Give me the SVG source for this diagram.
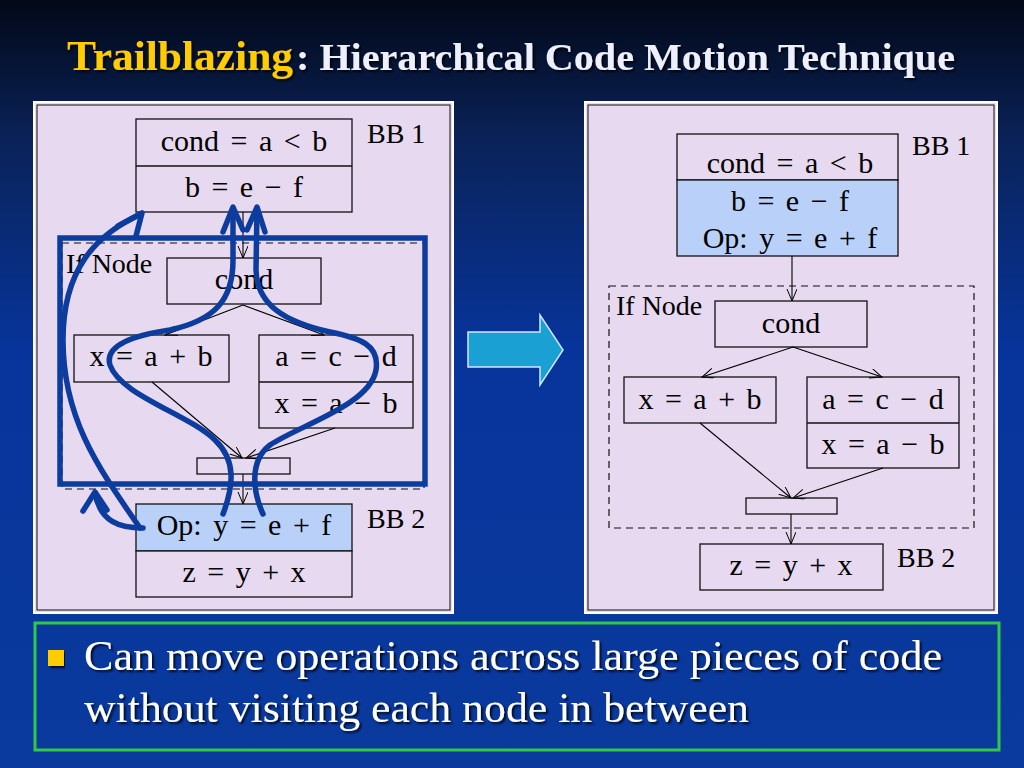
<svg xmlns="http://www.w3.org/2000/svg" width="1024" height="768" viewBox="0 0 1024 768">
<defs>
  <linearGradient id="bg" x1="0" y1="0" x2="0" y2="1">
    <stop offset="0" stop-color="#020817"/>
    <stop offset="0.18" stop-color="#0a2258"/>
    <stop offset="0.45" stop-color="#07349a"/>
    <stop offset="1" stop-color="#0a3a9e"/>
  </linearGradient>
  <filter id="shadow" x="-5%" y="-20%" width="110%" height="150%">
    <feDropShadow dx="2" dy="2" stdDeviation="0.8" flood-color="#000" flood-opacity="0.8"/>
  </filter>
  <marker id="arr" markerUnits="userSpaceOnUse" markerWidth="14" markerHeight="12" refX="12" refY="5" orient="auto">
    <path d="M0,0 L12,5 L0,10" fill="none" stroke="#000" stroke-width="1"/>
  </marker>
  <style>
    .panel{fill:#e7d9ef;stroke:#ffffff;stroke-width:2}
    .pin{fill:none;stroke:#111;stroke-width:1}
    .box{fill:#e7d9ef;stroke:#111;stroke-width:1.3}
    .hl{fill:#b9d1f9;stroke:#111;stroke-width:1.3}
    .t{font-family:"Liberation Serif",serif;font-size:30px;fill:#000;word-spacing:4px}
    .tm{text-anchor:middle}
    .lbl{font-family:"Liberation Serif",serif;font-size:28px;fill:#000}
    .edge{fill:none;stroke:#000;stroke-width:1.1;marker-end:url(#arr)}
    .blue{fill:none;stroke:#0b3c9e;stroke-width:5.5;stroke-linecap:round;stroke-linejoin:round}
    .dash{fill:none;stroke:#111;stroke-width:1.2;stroke-dasharray:7,5}
  </style>
</defs>

<rect x="0" y="0" width="1024" height="768" fill="url(#bg)"/>

<g id="title" filter="url(#shadow)">
  <text x="67" y="70" font-family="Liberation Serif,serif" font-weight="bold" font-size="42" fill="#ffcc00" textLength="226" lengthAdjust="spacingAndGlyphs">Trailblazing</text>
  <text x="296" y="70" font-family="Liberation Serif,serif" font-weight="bold" font-size="37" fill="#eef0ff" textLength="659" lengthAdjust="spacingAndGlyphs">: Hierarchical Code Motion Technique</text>
</g>

<!-- Left panel -->
<g id="left-panel">
  <rect class="panel" x="34" y="102" width="419" height="511"/>
  <rect class="pin" x="37" y="105" width="413" height="505"/>
</g>

<g id="L-ifnode">
  <rect class="dash" x="62" y="243" width="362" height="246"/>
  <text class="lbl" x="66" y="273">If Node</text>
</g>

<g id="L-bb1">
  <rect class="box" x="136" y="119" width="216" height="93"/>
  <line x1="136" y1="166" x2="352" y2="166" stroke="#111" stroke-width="1.3"/>
  <text class="t tm" x="244" y="151">cond = a &lt; b</text>
  <text class="t tm" x="244" y="197">b = e − f</text>
  <text class="lbl" x="367" y="143">BB 1</text>
</g>

<g id="L-cond">
  <rect class="box" x="167" y="258" width="154" height="46"/>
  <text class="t tm" x="244" y="289">cond</text>
</g>

<g id="L-then">
  <rect class="box" x="74" y="335" width="155" height="47"/>
  <text class="t tm" x="151" y="366">x = a + b</text>
</g>

<g id="L-else">
  <rect class="box" x="259" y="335" width="154" height="93"/>
  <line x1="259" y1="382" x2="413" y2="382" stroke="#111" stroke-width="1.3"/>
  <text class="t tm" x="336" y="366">a = c − d</text>
  <text class="t tm" x="336" y="413">x = a − b</text>
</g>

<g id="L-merge">
  <rect class="box" x="197" y="458" width="93" height="16"/>
</g>

<g id="L-bb2">
  <rect class="hl" x="136" y="504" width="216" height="47"/>
  <rect class="box" x="136" y="551" width="216" height="46"/>
  <text class="t tm" x="244" y="535">Op: y = e + f</text>
  <text class="t tm" x="244" y="582">z = y + x</text>
  <text class="lbl" x="367" y="528">BB 2</text>
</g>

<g id="L-connectors">
  <line class="edge" x1="243" y1="212" x2="243" y2="258"/>
  <line class="edge" x1="243" y1="305" x2="165" y2="335"/>
  <line class="edge" x1="243" y1="305" x2="324" y2="335"/>
  <line class="edge" x1="152" y1="382" x2="242" y2="458"/>
  <line class="edge" x1="335" y1="428" x2="246" y2="458"/>
  <line class="edge" x1="243" y1="474" x2="243" y2="504"/>
</g>

<g id="L-trails">
  <rect x="60" y="238" width="365" height="246" fill="none" stroke="#0b3c9e" stroke-width="5.5"/>
  <path class="blue" d="M140,528 C100,470 63,420 63,340 C63,270 95,235 141,214"/>
  <path class="blue" d="M118,226 L142,213 L136,236"/>
  <path class="blue" d="M143,528 C120,528 100,522 95,493"/>
  <path class="blue" d="M83,511 L95,492 L107,510"/>
  <path class="blue" d="M223,514 C234,485 236,460 215,440 C190,415 120,395 110,365 C104,345 135,335 170,330 C215,320 233,300 233,260 L233,210"/>
  <path class="blue" d="M223,232 L233,207 L243,230"/>
  <path class="blue" d="M263,514 C252,490 250,460 270,445 C300,425 370,405 376,370 C380,345 360,338 330,332 C285,322 257,305 256,270 L257,210"/>
  <path class="blue" d="M247,230 L257,207 L265,232"/>
</g>

<!-- Middle arrow -->
<g id="transform-arrow">
  <path d="M468,332 L540,332 L540,315 L563,350 L540,385 L540,367 L468,367 Z" fill="#1ba0d4" stroke="#cfe6ff" stroke-width="1.5"/>
</g>

<!-- Right panel -->
<g id="right-panel">
  <rect class="panel" x="585" y="102" width="412" height="511"/>
  <rect class="pin" x="588" y="105" width="406" height="505"/>
</g>

<g id="R-ifnode">
  <rect class="dash" x="609" y="286" width="365" height="242"/>
  <text class="lbl" x="616" y="315">If Node</text>
</g>

<g id="R-bb1">
  <rect class="box" x="677" y="134" width="221" height="46"/>
  <rect class="hl" x="677" y="180" width="221" height="76"/>
  <text class="t tm" x="790" y="173">cond = a &lt; b</text>
  <text class="t tm" x="790" y="211">b = e − f</text>
  <text class="t tm" x="790" y="248">Op: y = e + f</text>
  <text class="lbl" x="912" y="155">BB 1</text>
</g>

<g id="R-cond">
  <rect class="box" x="715" y="301" width="152" height="46"/>
  <text class="t tm" x="791" y="333">cond</text>
</g>

<g id="R-then">
  <rect class="box" x="624" y="377" width="152" height="46"/>
  <text class="t tm" x="700" y="409">x = a + b</text>
</g>

<g id="R-else">
  <rect class="box" x="807" y="377" width="152" height="91"/>
  <line x1="807" y1="423" x2="959" y2="423" stroke="#111" stroke-width="1.3"/>
  <text class="t tm" x="883" y="409">a = c − d</text>
  <text class="t tm" x="883" y="454">x = a − b</text>
</g>

<g id="R-merge">
  <rect class="box" x="746" y="498" width="91" height="16"/>
</g>

<g id="R-bb2">
  <rect class="box" x="700" y="544" width="183" height="46"/>
  <text class="t tm" x="791" y="575">z = y + x</text>
  <text class="lbl" x="897" y="567">BB 2</text>
</g>

<g id="R-connectors">
  <line class="edge" x1="792" y1="256" x2="792" y2="301"/>
  <line class="edge" x1="793" y1="347" x2="702" y2="377"/>
  <line class="edge" x1="793" y1="347" x2="882" y2="377"/>
  <line class="edge" x1="700" y1="423" x2="791" y2="498"/>
  <line class="edge" x1="883" y1="468" x2="793" y2="498"/>
  <line class="edge" x1="791" y1="514" x2="791" y2="544"/>
</g>

<!-- Bottom bullet box -->
<g id="bullet-box">
  <rect x="35" y="623" width="964" height="127" fill="none" stroke="#2fc84a" stroke-width="3"/>
  <rect x="48" y="650" width="16" height="16" fill="#ffcc00" filter="url(#shadow)"/>
  <g filter="url(#shadow)" font-family="Liberation Serif,serif" font-size="43" fill="#ffffff">
    <text x="84" y="670" textLength="858" lengthAdjust="spacingAndGlyphs">Can move operations across large pieces of code</text>
    <text x="84" y="722" textLength="665" lengthAdjust="spacingAndGlyphs">without visiting each node in between</text>
  </g>
</g>
</svg>
